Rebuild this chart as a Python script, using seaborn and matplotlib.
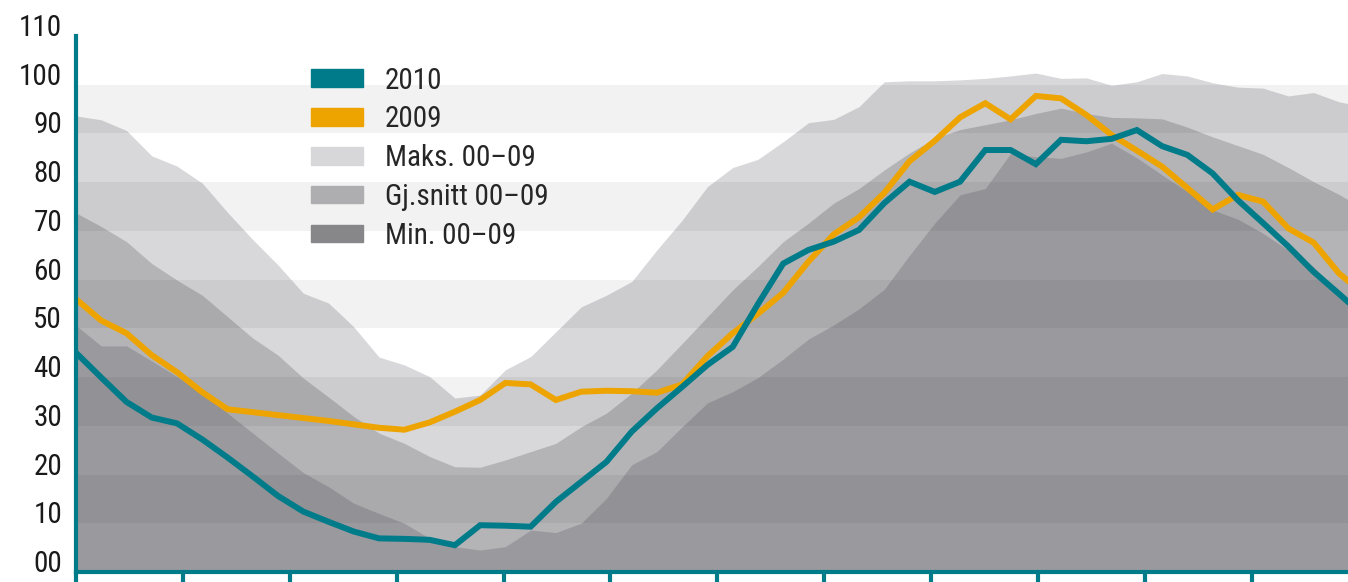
import numpy as np
import pandas as pd
import matplotlib
matplotlib.use("Agg")
import matplotlib.pyplot as plt
from matplotlib.patches import Patch
from matplotlib import font_manager
import seaborn as sns

# === data (weekly values) ===
weeks = np.arange(52)
maks = [93.6, 92.8, 90.6, 85.4, 83.3, 79.8, 73.8, 68.2, 63.0, 57.2,
        55.2, 50.3, 44.1, 42.5, 40.1, 35.7, 36.3, 41.5, 44.2, 49.3,
        54.4, 56.8, 59.6, 66.1, 72.2, 79.1, 83.0, 84.7, 88.3, 92.2,
        92.9, 95.5, 100.6, 100.8, 100.8, 101.0, 101.3, 101.8, 102.4, 101.3,
        101.4, 99.9, 100.6, 102.3, 101.8, 100.4, 99.5, 99.3, 97.7, 98.4,
        96.5, 95.5]
snitt = [73.7, 70.9, 67.8, 63.3, 59.9, 56.8, 52.4, 48.0, 44.5, 39.8,
         35.9, 31.9, 28.5, 26.4, 23.7, 21.6, 21.5, 23.0, 24.7, 26.4,
         29.8, 32.6, 36.7, 41.5, 46.9, 52.4, 57.9, 62.7, 67.8, 71.6,
         75.7, 78.7, 82.5, 86.0, 89.0, 90.8, 91.8, 92.8, 94.1, 95.2,
         94.1, 93.3, 93.2, 93.0, 91.3, 89.3, 87.5, 85.7, 83.0, 80.1,
         77.5, 74.5]
minimum = [50.6, 46.4, 46.4, 43.3, 40.1, 36.7, 32.6, 28.5, 24.4, 20.4,
           17.5, 14.1, 12.0, 10.0, 6.9, 5.2, 4.5, 5.2, 8.6, 8.1,
           10.0, 15.1, 22.0, 24.7, 29.8, 34.7, 37.0, 39.9, 43.7, 47.8,
           50.7, 54.0, 58.0, 65.0, 71.6, 77.4, 78.7, 85.9, 85.2, 84.9,
           86.2, 88.0, 85.0, 81.5, 78.0, 74.3, 72.4, 69.5, 66.0, 62.6,
           57.5, 53.5]
y2010 = [45.0, 39.9, 34.9, 31.7, 30.5, 27.2, 23.5, 19.6, 15.6, 12.4,
         10.3, 8.3, 6.9, 6.8, 6.6, 5.5, 9.6, 9.5, 9.3, 14.4,
         18.5, 22.6, 28.8, 33.6, 38.0, 42.5, 46.2, 55.0, 63.3, 66.1,
         67.8, 70.2, 75.7, 80.1, 78.0, 80.1, 86.6, 86.6, 83.7, 88.7,
         88.4, 88.9, 90.7, 87.4, 85.6, 81.8, 76.3, 71.6, 66.8, 61.6,
         57.1, 52.5]
y2009 = [56.0, 51.6, 49.0, 44.5, 41.0, 36.9, 33.4, 32.8, 32.2, 31.6,
         31.0, 30.3, 29.6, 29.2, 30.7, 32.9, 35.3, 38.8, 38.5, 35.3,
         37.0, 37.2, 37.1, 36.8, 38.5, 44.3, 49.0, 53.0, 57.3, 63.7,
         69.3, 72.8, 77.8, 84.3, 88.5, 93.3, 96.2, 92.9, 97.7, 97.2,
         93.8, 89.7, 86.5, 83.2, 78.8, 74.4, 77.4, 76.0, 70.5, 67.6,
         61.3, 57.0]
ytick_values = list(range(0, 111, 10))
ytick_labels = ["00", "10", "20", "30", "40", "50", "60", "70", "80", "90", "100", "110"]
series_labels = ["2010", "2009", "Maks. 00–09", "Gj.snitt 00–09", "Min. 00–09"]

TEAL = "#007b89"
ORANGE = "#eea400"
C_MAKS, C_SNITT, C_MIN = "#d8d8da", "#b4b4b7", "#9a999e"
L_MAKS, L_SNITT, L_MIN = "#d7d7d9", "#aeaeb1", "#878689"

# === style: pick a narrow family if one is installed ===
sns.set_theme(style="white")
installed = {f.name for f in font_manager.fontManager.ttflist}
narrow = [n for n in ["Liberation Sans Narrow", "Roboto Condensed", "Open Sans Condensed"]
          if n in installed]
family = narrow[0] if narrow else "Liberation Sans"
plt.rcParams["font.family"] = [family, "DejaVu Sans"]
if not narrow:
    plt.rcParams["font.stretch"] = "condensed"
tick_size = 21 if narrow else 18.5
leg_size = 21 if narrow else 19

fig = plt.figure(figsize=(13.48, 5.82), dpi=100)
ax = fig.add_axes([76 / 1348, 10 / 582, 1272 / 1348, 536 / 582])

# areas
ax.fill_between(weeks, 0, maks, color=C_MAKS, lw=0, zorder=1)
ax.fill_between(weeks, 0, snitt, color=C_SNITT, lw=0, zorder=2)
ax.fill_between(weeks, 0, minimum, color=C_MIN, lw=0, zorder=3)

# alternating bands over the areas
for lo in range(10, 100, 20):
    ax.axhspan(lo, lo + 10, color="black", alpha=0.05, lw=0, zorder=4)

# lines
df = pd.DataFrame({"uke": weeks, "2010": y2010, "2009": y2009})
long = df.melt(id_vars="uke", var_name="år", value_name="fylling")
sns.lineplot(data=long, x="uke", y="fylling", hue="år", hue_order=["2009", "2010"],
             palette={"2010": TEAL, "2009": ORANGE}, linewidth=4.3,
             legend=False, ax=ax, zorder=5)
for ln in ax.lines:
    ln.set_solid_joinstyle("miter")

# axes
ax.set_xlim(0, 50.36)
ax.set_ylim(0, 110)
ax.set_xticks(np.arange(12) * 4.232)
ax.set_xticklabels([])
ax.set_yticks(ytick_values)
ax.set_yticklabels(ytick_labels, fontsize=tick_size, color="#1a1a1a")
for lab in ax.get_yticklabels():
    lab.set_va("baseline")
ax.tick_params(axis="y", length=0, pad=10)
ax.tick_params(axis="x", bottom=True, length=7, width=3, color=TEAL, direction="out")
ax.set_xlabel("")
ax.set_ylabel("")
for side in ["top", "right"]:
    ax.spines[side].set_visible(False)
for side in ["left", "bottom"]:
    ax.spines[side].set_color(TEAL)
    ax.spines[side].set_linewidth(3)
    ax.spines[side].set_zorder(6)

# legend
handles = [Patch(color=TEAL), Patch(color=ORANGE), Patch(color=L_MAKS),
           Patch(color=L_SNITT), Patch(color=L_MIN)]
em = leg_size * 100 / 72
leg = ax.legend(handles, series_labels, loc="upper left", bbox_to_anchor=(0.1848, 0.943),
                frameon=False, fontsize=leg_size, handlelength=52 / em,
                handleheight=16 / em, handletextpad=22 / em, labelspacing=0.37,
                borderpad=0, borderaxespad=0)
leg.set_zorder(7)

fig.savefig("out.png", dpi=100)
